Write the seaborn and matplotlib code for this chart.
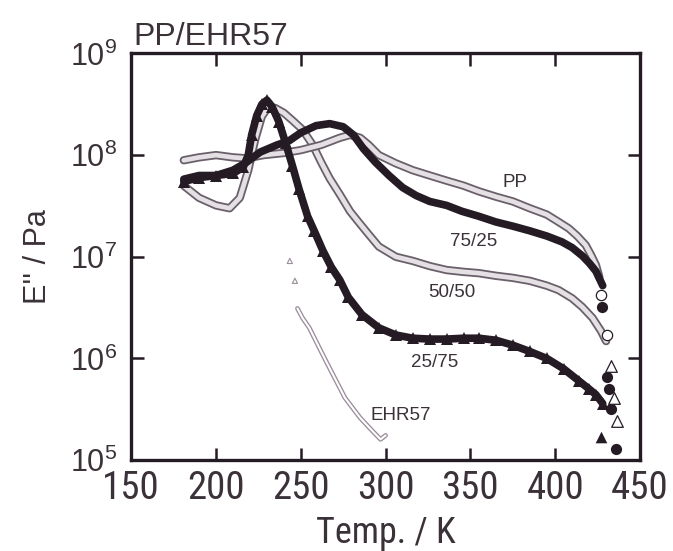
import matplotlib
matplotlib.use("Agg")
import matplotlib.pyplot as plt
from matplotlib import font_manager
from matplotlib.font_manager import FontProperties
import seaborn as sns

# ---- data: temperature (K) and loss modulus E'' (Pa) ----
pp_T = [181, 190, 200, 210, 218, 228, 240, 250, 262, 273, 279, 285, 290, 296, 306,
        316, 326, 336, 346, 355, 365, 375, 385, 395, 402, 408, 413, 418, 421, 424, 426]
pp_E = [8.9e7, 9.5e7, 1.0e8, 9.5e7, 9.3e7, 1.0e8, 1.05e8, 1.12e8, 1.26e8, 1.48e8, 1.58e8,
        1.48e8, 1.26e8, 1.0e8, 8.3e7, 7.1e7, 6.3e7, 5.6e7, 5.0e7, 4.4e7, 3.9e7, 3.5e7,
        3.0e7, 2.6e7, 2.2e7, 1.9e7, 1.6e7, 1.3e7, 1.05e7, 8.3e6, 6.3e6]
pp_tail_T = [427, 430.5]
pp_tail_E = [4.2e6, 1.7e6]

b7525_T = [181, 190, 200, 210, 218, 226, 236, 243, 250, 259, 267, 275, 281, 287, 294, 302,
           310, 318, 326, 336, 345, 355, 365, 375, 385, 395, 404, 410, 416, 420, 424, 428]
b7525_E = [5.8e7, 6.3e7, 6.3e7, 7.1e7, 8.5e7, 1.07e8, 1.26e8, 1.38e8, 1.66e8, 1.95e8, 2.04e8,
           1.9e8, 1.58e8, 1.15e8, 8.5e7, 6.3e7, 4.8e7, 4.0e7, 3.5e7, 3.2e7, 2.8e7, 2.5e7,
           2.2e7, 2.0e7, 1.8e7, 1.6e7, 1.4e7, 1.23e7, 1.02e7, 8.7e6, 7.2e6, 5.2e6]
b7525_tail_T = [427.7, 430.5, 432, 432.6, 435.6]
b7525_tail_E = [3.2e6, 6.5e5, 5.0e5, 3.2e5, 1.3e5]

b5050_T = [181, 190, 200, 208, 214, 219, 223, 227, 231, 235, 240, 245, 251, 257, 262, 267,
           273, 279, 285, 290, 296, 306, 316, 326, 336, 346, 355, 365, 375, 385, 395, 402,
           410, 416, 422, 427, 430]
b5050_E = [5.0e7, 3.8e7, 3.2e7, 3.0e7, 3.8e7, 7.1e7, 1.41e8, 2.4e8, 3.0e8, 2.9e8, 2.6e8,
           2.2e8, 1.78e8, 1.26e8, 8.5e7, 5.9e7, 4.1e7, 2.8e7, 2.1e7, 1.66e7, 1.26e7, 1.0e7,
           9.1e6, 8.1e6, 7.4e6, 7.1e6, 6.9e6, 6.5e6, 6.2e6, 5.8e6, 5.2e6, 4.7e6, 3.9e6,
           3.2e6, 2.5e6, 1.86e6, 1.48e6]
b5050_tail_T = [433, 434.6, 436.5]
b5050_tail_E = [8.5e5, 4.1e5, 2.4e5]

b2575_T = [181, 190, 200, 210, 216, 219, 221, 224, 227, 230, 233, 237, 241, 245, 249, 254,
           258, 263, 268, 273, 278, 286, 296, 306, 316, 326, 336, 346, 355, 365, 375, 385,
           395, 405, 414, 420, 424, 428]
b2575_E = [5.5e7, 6.0e7, 6.3e7, 6.6e7, 7.6e7, 1.0e8, 1.58e8, 2.45e8, 3.16e8, 3.47e8, 3.0e8,
           2.14e8, 1.32e8, 7.9e7, 4.6e7, 2.5e7, 1.78e7, 1.15e7, 7.9e6, 5.9e6, 4.0e6, 2.7e6,
           2.0e6, 1.7e6, 1.58e6, 1.55e6, 1.55e6, 1.58e6, 1.58e6, 1.51e6, 1.35e6, 1.17e6,
           1.0e6, 7.9e5, 6.0e5, 5.0e5, 4.4e5, 3.6e5]
b2575_tail_T = [427]
b2575_tail_E = [1.7e5]

ehr_T = [248, 251, 255, 261, 265, 269, 276, 285, 292, 297, 300]
ehr_E = [3.1e6, 2.5e6, 2.0e6, 1.26e6, 9.3e5, 6.9e5, 4.1e5, 2.6e5, 1.95e5, 1.6e5, 1.75e5]
ehr_head_T = [243.5, 246.5]
ehr_head_E = [9.1e6, 5.8e6]

curve_labels = ["PP", "75/25", "50/50", "25/75", "EHR57"]
label_T = [376, 352, 339, 329, 309]
label_E = [5.4e7, 1.4e7, 4.5e6, 9.1e5, 2.75e5]

x_ticks = [150, 200, 250, 300, 350, 400, 450]
y_exps = [5, 6, 7, 8, 9]

# ---- style ----
sns.set_style("ticks")
plt.rcParams["font.family"] = ["Liberation Sans", "DejaVu Sans"]
plt.rcParams["mathtext.default"] = "regular"


def condensed_font_file():
    """Return the file of a regular-weight narrow sans face, if one is installed."""
    prefs = ["Liberation Sans Narrow", "Roboto Condensed", "Open Sans Condensed",
             "Noto Sans", "DejaVu Sans", "Roboto", "Open Sans", "Inter", "Lato"]
    narrow_words = ("Narrow", "Condensed", "Cond")
    for fam in prefs:
        for f in font_manager.fontManager.ttflist:
            if f.name != fam or f.style != "normal":
                continue
            w = f.weight
            if isinstance(w, str):
                w = font_manager.weight_dict.get(w, 400)
            if w not in (400,):
                continue
            narrow_name = any(word in f.name for word in narrow_words) or \
                any(word in f.fname for word in narrow_words)
            if narrow_name or str(f.stretch) in ("condensed", "semi-condensed",
                                                 "extra-condensed"):
                return f.fname
    return None


cond_file = condensed_font_file()


def xfont(size):
    if cond_file:
        return FontProperties(fname=cond_file, size=size)
    return FontProperties(family="Liberation Sans", size=size * 0.9)


INK = "#241b24"
TEXT = "#3b3239"
EDGE = "#6a606a"
FILL = "#e4e0e4"

fig = plt.figure(figsize=(6.73, 5.51), dpi=100)
ax = fig.add_axes([0.195, 0.165, 0.756, 0.738])
ax.set_yscale("log")


def hollow_band(T, E, outer_w, inner_w, outer_c, inner_c, alpha=1.0):
    sns.lineplot(x=T, y=E, ax=ax, sort=False, estimator=None, color=outer_c,
                 linewidth=outer_w, alpha=alpha, solid_capstyle="round",
                 solid_joinstyle="round")
    sns.lineplot(x=T, y=E, ax=ax, sort=False, estimator=None, color=inner_c,
                 linewidth=inner_w, solid_capstyle="round", solid_joinstyle="round")


# open-marker series drawn as hollow bands
hollow_band(ehr_T, ehr_E, 3.4, 1.5, "#9a8e9a", "white")
sns.scatterplot(x=ehr_head_T, y=ehr_head_E, ax=ax, marker="^", s=14,
                facecolor="none", edgecolor="#9a8e9a", linewidth=0.8)
hollow_band(b5050_T, b5050_E, 6.0, 3.4, EDGE, FILL)
hollow_band(pp_T, pp_E, 6.0, 3.4, EDGE, FILL)

# filled series drawn as solid bands with markers
sns.lineplot(x=b2575_T, y=b2575_E, ax=ax, sort=False, estimator=None, color=INK,
             linewidth=5.5, marker="^", markersize=8, markeredgewidth=0,
             solid_joinstyle="round")
sns.lineplot(x=b7525_T, y=b7525_E, ax=ax, sort=False, estimator=None, color=INK,
             linewidth=5.5, solid_joinstyle="round", solid_capstyle="round")

# isolated end points at the melt
sns.scatterplot(x=pp_tail_T, y=pp_tail_E, ax=ax, marker="o", s=55,
                facecolor="white", edgecolor=INK, linewidth=0.9, zorder=5)
sns.scatterplot(x=b7525_tail_T, y=b7525_tail_E, ax=ax, marker="o", s=65,
                color=INK, linewidth=0, zorder=5)
sns.scatterplot(x=b5050_tail_T, y=b5050_tail_E, ax=ax, marker="^", s=70,
                facecolor="white", edgecolor=INK, linewidth=0.9, zorder=5)
sns.scatterplot(x=b2575_tail_T, y=b2575_tail_E, ax=ax, marker="^", s=70,
                color=INK, linewidth=0, zorder=5)

for name, t, e in zip(curve_labels, label_T, label_E):
    ax.text(t, e, name, fontsize=13.5, color=TEXT, ha="center", va="center")

# axes
ax.set_xlim(150, 450)
ax.set_ylim(1e5, 1e9)
ax.set_xticks(x_ticks)
ax.set_xticklabels([str(v) for v in x_ticks], color=TEXT)
for lbl in ax.get_xticklabels():
    lbl.set_fontproperties(xfont(28))
ax.set_yticks([10.0 ** k for k in y_exps])
ax.set_yticklabels([r"$\mathregular{10^{%d}}$" % k for k in y_exps], fontsize=22, color=TEXT)
ax.minorticks_off()
ax.tick_params(axis="both", which="major", direction="in", length=9, width=1.8,
               color=INK, top=True, right=True)
ax.tick_params(axis="x", pad=7)
ax.tick_params(axis="y", pad=10)
for sp in ax.spines.values():
    sp.set_linewidth(2.4)
    sp.set_color(INK)
    sp.set_visible(True)

ax.set_xlabel("Temp. / K", fontproperties=xfont(26), color=TEXT, labelpad=6)
ax.set_ylabel("E'' / Pa", fontsize=22, color=TEXT, labelpad=12)
fig.text(0.198, 0.918, "PP/EHR57", fontsize=23, color=TEXT, ha="left", va="baseline")

fig.savefig("out.png", dpi=100, facecolor="white")
